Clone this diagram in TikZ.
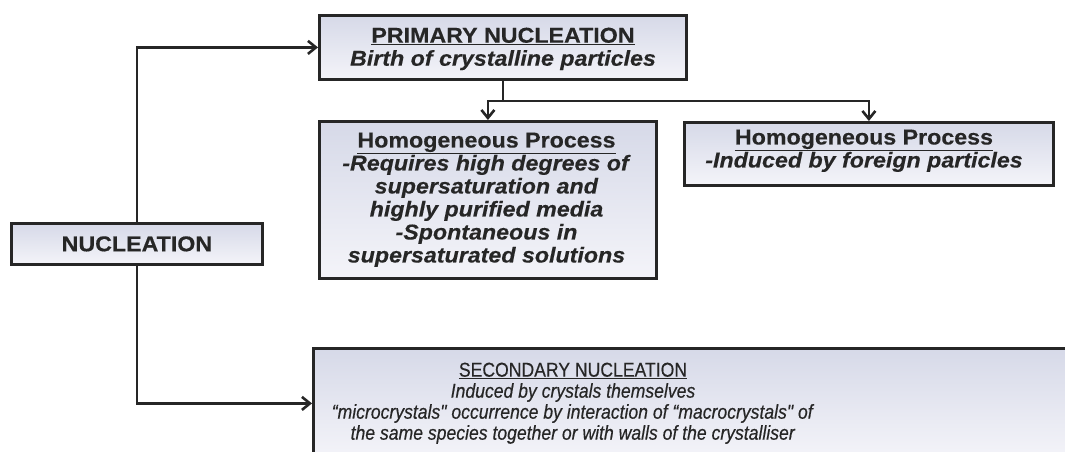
\documentclass[tikz,border=0pt]{standalone}
\usepackage{fontspec}
\setmainfont{Liberation Sans}[FakeStretch=1.08,FakeBold=0.3]
\newfontfamily\narrowfont[FakeStretch=0.88,FakeBold=0.4]{Liberation Sans}
\usetikzlibrary{arrows.meta}
\definecolor{ink}{RGB}{38,38,38}
\definecolor{boxtop}{RGB}{214,217,232}
\definecolor{boxbot}{RGB}{244,244,249}
\tikzset{
  box/.style={draw=ink, line width=2.8pt, top color=boxtop, bottom color=boxbot,
              inner sep=0pt, anchor=north west},
  conn/.style={draw=ink, line width=2.6pt},
  arr/.style={conn, -{Straight Barb[length=8pt,width=13pt]}},
  txt/.style={text=ink, font=\fontsize{21.5}{23}\selectfont\bfseries,
              align=center, inner sep=0pt, anchor=north},
  stxt/.style={text=ink, font=\fontsize{20}{21}\selectfont\narrowfont,
              align=center, inner sep=0pt, anchor=north},
}
\begin{document}
\begin{tikzpicture}[x=1pt,y=-1pt]
\useasboundingbox (0,0) rectangle (1065,452);
\clip (0,0) rectangle (1065,452);
% boxes
\node[box, minimum width=251pt, minimum height=41pt] (nuc) at (10,222) {};
\node[box, minimum width=367pt, minimum height=64pt] (prim) at (318,14) {};
\node[box, minimum width=337pt, minimum height=157pt] (h1) at (318,120) {};
\node[box, minimum width=369pt, minimum height=63pt] (h2) at (683,121) {};
\node[box, minimum width=770pt, minimum height=110pt] (sec) at (312,347) {};
% texts
\node[txt, anchor=center] (nuct) at (nuc.center) {NUCLEATION};
\node[txt] (primt) at (503,27.5) {\underline{PRIMARY NUCLEATION}\\\textit{Birth of crystalline particles}};
\node[txt] (h1t) at (486.5,132.5) {\underline{Homogeneous Process}\\\textit{-Requires high degrees of}\\\textit{supersaturation and}\\\textit{highly purified media}\\\textit{-Spontaneous in}\\\textit{supersaturated solutions}};
\node[txt] (h2t) at (864,129.5) {\underline{Homogeneous Process}\\\textit{-Induced by foreign particles}};
\node[stxt] (sect) at (573,362.5) {\underline{SECONDARY NUCLEATION}\\\textit{Induced by crystals themselves}\\\textit{“microcrystals" occurrence by interaction of “macrocrystals" of}\\\textit{the same species together or with walls of the crystalliser}};
% connectors
\draw[arr] (nuc.north) |- (prim.west);
\draw[arr] (nuc.south) |- (sec.west);
\draw[conn] (prim.south) -- ++(0,20) coordinate (j);
\draw[arr] (j) -| (h1.north);
\draw[arr] (j) -| (h2.north);
\end{tikzpicture}
\end{document}
